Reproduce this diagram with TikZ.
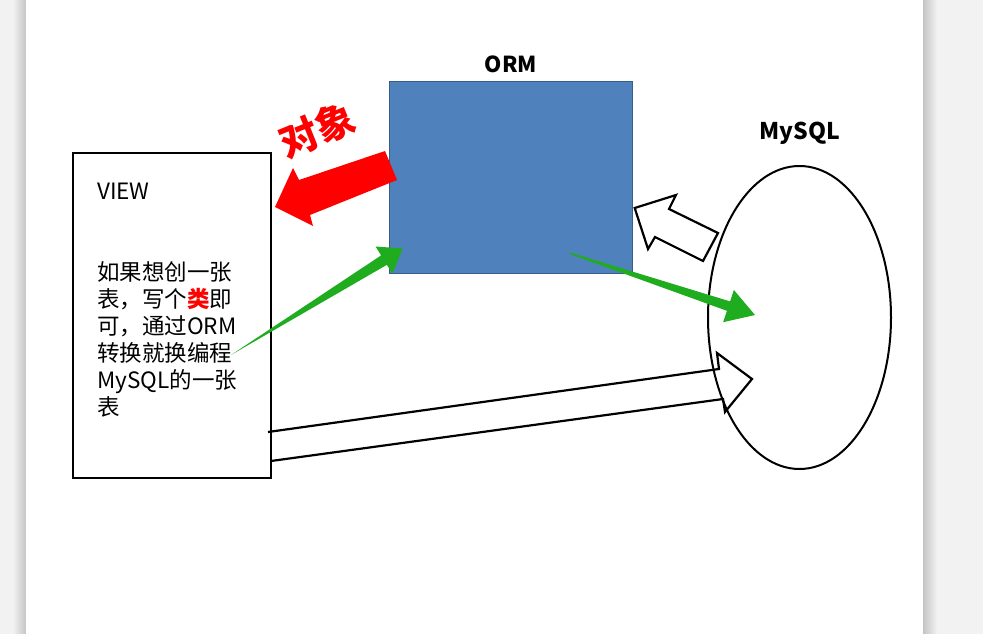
\documentclass[tikz,border=0pt]{standalone}
\usepackage{fontspec}
\usetikzlibrary{shapes.geometric}
\setmainfont{Noto Sans CJK SC}
\begin{document}
\begin{tikzpicture}[x=1pt,y=-1pt,
  outl/.style={draw=black,line width=2.2pt,line join=miter},
  lbl/.style={font=\bfseries\fontsize{22}{26}\selectfont,inner sep=0pt},
  body/.style={font=\fontsize{22.5}{27}\selectfont,inner sep=0pt,align=left,anchor=north west}]
\definecolor{bgray}{HTML}{F2F2F2}
\definecolor{sgray}{HTML}{C4C4C4}
\definecolor{ormfill}{HTML}{4F81BD}
\definecolor{ormdraw}{HTML}{385D8A}
\definecolor{arrgreen}{HTML}{1FAD1F}
% page
\fill[bgray] (0,0) rectangle (983,634);
\shade[left color=bgray,right color=sgray] (13,0) rectangle (26,634);
\shade[left color=sgray,right color=bgray] (923,0) rectangle (937,634);
\fill[white] (26,0) rectangle (923,634);
\useasboundingbox (0,0) rectangle (983,634);
% VIEW box
\node[draw=black,line width=1.8pt,minimum width=198pt,minimum height=325pt,anchor=north west,inner sep=0pt] (view) at (72,152) {};
\node[font=\fontsize{22.5}{27}\selectfont,inner sep=0pt,anchor=base west] (viewt) at (97,199) {VIEW};
\node[body] (desc) at (97,261) {如果想创一张\\表，写个{\color{red}\bfseries 类}即\\可，通过ORM\\转换就换编程\\MySQL的一张\\表};
% ORM
\node[draw=ormdraw,fill=ormfill,line width=1pt,minimum width=243pt,minimum height=192pt,anchor=north west,inner sep=0pt] (orm) at (389,81) {};
\node[lbl] (ormt) at (511,64) {ORM};
% MySQL
\node[draw=black,line width=2pt,ellipse,minimum width=183pt,minimum height=303pt,inner sep=0pt] (mysql) at (799.5,317.5) {};
\node[lbl,font=\bfseries\fontsize{23}{26}\selectfont] (mysqlt) at (800,133) {MySQL};
% red block arrow
\fill[red] (385,151) -- (397,180) -- (310,215) -- (313,226) -- (275,207) -- (293,168) -- (299,180) -- cycle;
\node[font=\bfseries\fontsize{39}{39}\selectfont,text=red,rotate=22,inner sep=0pt] (obj) at (317,130) {对象};
% white block arrow ORM <- MySQL
\draw[outl,fill=white] (634.7,208) -- (676,195) -- (669,209) -- (718,233) -- (703,261) -- (655,237) -- (648,249) -- cycle;
% long white block arrow VIEW -> MySQL
\draw[outl] (268,432) -- (719,369) -- (717,353) -- (752,379) -- (725,412) -- (723,399) -- (271,461);
% green arrows
\fill[arrgreen] (231,355) -- (381.1,255.4) -- (375.6,246.5) -- (402.7,248.5) -- (392.4,273.7) -- (386.9,264.8) -- cycle;
\fill[arrgreen] (570,252.5) -- (730.1,301.4) -- (733.9,290) -- (755,315) -- (723.1,322.2) -- (726.9,310.8) -- (569.7,254) -- cycle;
\end{tikzpicture}
\end{document}
